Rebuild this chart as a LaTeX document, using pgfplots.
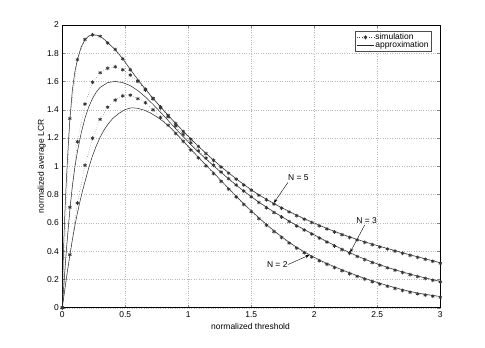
\documentclass[border=0pt]{standalone}
\usepackage{fontspec}
\setmainfont{Liberation Sans}
\usepackage{pgfplots}
\pgfplotsset{compat=1.18}
\usetikzlibrary{arrows.meta}

\newcommand{\fs}{\fontsize{8.5}{10}\selectfont}

\begin{document}
\begin{tikzpicture}
\begin{axis}[name=ax,
  scale only axis, width=378bp, height=282.8bp,
  xmin=0, xmax=3, ymin=0, ymax=2,
  xtick={0,0.5,...,3}, ytick={0,0.2,...,2},
  /pgf/number format/assume math mode=true,
  tick label style={font=\fs}, label style={font=\fs},
  tick align=inside, major tick length=3pt,
  grid=major, major grid style={dotted, gray!55},
  axis line style={black, line width=0.5pt},
  xlabel={normalized threshold},
  ylabel={normalized average LCR},
  xlabel style={at={(rel axis cs:0.498,-0.068)}, anchor=center},
  ylabel style={at={(rel axis cs:-0.0545,0.5)}, anchor=center},
  legend style={font=\fs, at={(rel axis cs:0.9754,0.978)}, anchor=north east,
    draw=black!70, line width=0.5pt, inner sep=1pt, row sep=-2.5pt,
    nodes={inner sep=1.2pt}},
  legend cell align=left,
  sim/.style={black!75, dotted, line width=0.4pt, mark=asterisk, mark size=1.9pt,
    mark options={solid, line width=0.7pt, black!80}},
  apx/.style={black!85, line width=0.5pt, mark=none}
]

% N = 5
\addplot[sim] coordinates {(0,0) (0.06,1.338) (0.12,1.755) (0.18,1.897) (0.24,1.93) (0.30,1.92) (0.36,1.872) (0.42,1.826) (0.48,1.76) (0.54,1.683) (0.60,1.605) (0.66,1.545) (0.72,1.48) (0.78,1.42) (0.84,1.36) (0.90,1.302) (0.96,1.246) (1.02,1.192) (1.08,1.14) (1.14,1.09) (1.20,1.042) (1.26,0.995) (1.32,0.951) (1.38,0.909) (1.44,0.868) (1.50,0.83) (1.56,0.795) (1.62,0.763) (1.68,0.733) (1.74,0.704) (1.80,0.677) (1.86,0.651) (1.92,0.626) (1.98,0.602) (2.04,0.579) (2.10,0.557) (2.16,0.536) (2.22,0.516) (2.28,0.497) (2.34,0.479) (2.40,0.462) (2.46,0.446) (2.52,0.43) (2.58,0.415) (2.64,0.4) (2.70,0.385) (2.76,0.37) (2.82,0.356) (2.88,0.342) (2.94,0.328) (3.0,0.314)};
\addlegendentry{simulation}
\addplot[apx] coordinates {(0,0) (0.005,0.25) (0.01,0.42) (0.02,0.66) (0.03,0.86) (0.04,1.03) (0.05,1.19) (0.06,1.33) (0.08,1.54) (0.10,1.67) (0.12,1.755) (0.15,1.845) (0.18,1.895) (0.21,1.922) (0.24,1.93) (0.27,1.928) (0.30,1.918) (0.33,1.9) (0.36,1.875) (0.42,1.825) (0.48,1.76) (0.54,1.685) (0.60,1.613) (0.66,1.545) (0.72,1.481) (0.78,1.42) (0.84,1.361) (0.90,1.304) (0.96,1.248) (1.02,1.194) (1.08,1.142) (1.14,1.092) (1.20,1.044) (1.26,0.998) (1.32,0.954) (1.38,0.912) (1.44,0.872) (1.50,0.834) (1.56,0.799) (1.62,0.767) (1.68,0.737) (1.74,0.708) (1.80,0.681) (1.86,0.655) (1.92,0.63) (1.98,0.606) (2.04,0.583) (2.10,0.561) (2.16,0.54) (2.22,0.52) (2.28,0.501) (2.34,0.483) (2.40,0.466) (2.46,0.45) (2.52,0.434) (2.58,0.419) (2.64,0.404) (2.70,0.389) (2.76,0.374) (2.82,0.36) (2.88,0.346) (2.94,0.332) (3.0,0.318)};
\addlegendentry{approximation}

% N = 3
\addplot[sim, forget plot] coordinates {(0,0) (0.06,0.71) (0.12,1.174) (0.18,1.44) (0.24,1.594) (0.30,1.662) (0.36,1.693) (0.42,1.704) (0.48,1.683) (0.54,1.645) (0.60,1.60) (0.66,1.54) (0.72,1.478) (0.78,1.414) (0.84,1.35) (0.90,1.286) (0.96,1.225) (1.02,1.167) (1.08,1.11) (1.14,1.058) (1.20,1.008) (1.26,0.96) (1.32,0.913) (1.38,0.868) (1.44,0.825) (1.50,0.784) (1.56,0.744) (1.62,0.707) (1.68,0.673) (1.74,0.641) (1.80,0.609) (1.86,0.578) (1.92,0.549) (1.98,0.521) (2.04,0.492) (2.10,0.464) (2.16,0.437) (2.22,0.411) (2.28,0.386) (2.34,0.362) (2.40,0.34) (2.46,0.319) (2.52,0.3) (2.58,0.282) (2.64,0.265) (2.70,0.249) (2.76,0.234) (2.82,0.22) (2.88,0.207) (2.94,0.194) (3.0,0.182)};
\addplot[apx, forget plot] coordinates {(0,0) (0.005,0.07) (0.01,0.13) (0.02,0.26) (0.03,0.38) (0.04,0.49) (0.06,0.69) (0.08,0.86) (0.10,0.995) (0.12,1.105) (0.15,1.235) (0.18,1.34) (0.21,1.42) (0.24,1.48) (0.27,1.525) (0.30,1.558) (0.36,1.592) (0.42,1.60) (0.48,1.592) (0.54,1.57) (0.60,1.535) (0.66,1.49) (0.72,1.438) (0.78,1.382) (0.84,1.324) (0.90,1.266) (0.96,1.209) (1.02,1.154) (1.08,1.101) (1.14,1.052) (1.20,1.004) (1.26,0.957) (1.32,0.911) (1.38,0.867) (1.44,0.825) (1.50,0.785) (1.56,0.747) (1.62,0.711) (1.68,0.677) (1.74,0.645) (1.80,0.613) (1.86,0.582) (1.92,0.553) (1.98,0.525) (2.04,0.496) (2.10,0.468) (2.16,0.441) (2.22,0.415) (2.28,0.39) (2.34,0.366) (2.40,0.344) (2.46,0.323) (2.52,0.304) (2.58,0.286) (2.64,0.269) (2.70,0.253) (2.76,0.238) (2.82,0.224) (2.88,0.211) (2.94,0.198) (3.0,0.186)};

% N = 2
\addplot[sim, forget plot] coordinates {(0,0) (0.06,0.375) (0.12,0.74) (0.18,1.007) (0.24,1.198) (0.30,1.332) (0.36,1.418) (0.42,1.468) (0.48,1.498) (0.54,1.503) (0.60,1.478) (0.66,1.45) (0.72,1.40) (0.78,1.345) (0.84,1.29) (0.90,1.232) (0.96,1.176) (1.02,1.115) (1.08,1.059) (1.14,1.003) (1.20,0.949) (1.26,0.893) (1.32,0.838) (1.38,0.783) (1.44,0.73) (1.50,0.679) (1.56,0.63) (1.62,0.583) (1.68,0.538) (1.74,0.497) (1.80,0.457) (1.86,0.421) (1.92,0.389) (1.98,0.359) (2.04,0.332) (2.10,0.307) (2.16,0.284) (2.22,0.262) (2.28,0.241) (2.34,0.221) (2.40,0.202) (2.46,0.184) (2.52,0.167) (2.58,0.151) (2.64,0.136) (2.70,0.122) (2.76,0.109) (2.82,0.098) (2.88,0.089) (2.94,0.081) (3.0,0.073)};
\addplot[apx, forget plot] coordinates {(0,0) (0.01,0.065) (0.02,0.13) (0.04,0.255) (0.06,0.37) (0.08,0.48) (0.10,0.58) (0.12,0.67) (0.14,0.75) (0.16,0.825) (0.18,0.89) (0.21,0.99) (0.24,1.075) (0.27,1.145) (0.30,1.205) (0.33,1.255) (0.36,1.295) (0.40,1.338) (0.45,1.375) (0.50,1.402) (0.55,1.414) (0.60,1.41) (0.65,1.397) (0.70,1.377) (0.75,1.35) (0.80,1.318) (0.85,1.28) (0.90,1.235) (0.95,1.188) (1.0,1.14) (1.02,1.121) (1.08,1.065) (1.14,1.009) (1.20,0.955) (1.26,0.899) (1.32,0.844) (1.38,0.789) (1.44,0.736) (1.50,0.685) (1.56,0.636) (1.62,0.589) (1.68,0.544) (1.74,0.503) (1.80,0.463) (1.86,0.427) (1.92,0.395) (1.98,0.365) (2.04,0.338) (2.10,0.313) (2.16,0.29) (2.22,0.268) (2.28,0.247) (2.34,0.227) (2.40,0.208) (2.46,0.19) (2.52,0.173) (2.58,0.157) (2.64,0.142) (2.70,0.128) (2.76,0.115) (2.82,0.104) (2.88,0.095) (2.94,0.087) (3.0,0.079)};

% labels and arrows
\node[font=\fs] at (axis cs:1.873,0.922) {N = 5};
\draw[-{Stealth[length=4pt,width=3pt]}, line width=0.4pt] (axis cs:1.79,0.885) -- (axis cs:1.68,0.742);
\node[font=\fs] at (axis cs:2.416,0.615) {N = 3};
\draw[-{Stealth[length=4pt,width=3pt]}, line width=0.4pt] (axis cs:2.40,0.585) -- (axis cs:2.285,0.392);
\node[font=\fs] at (axis cs:1.706,0.302) {N = 2};
\draw[-{Stealth[length=4pt,width=3pt]}, line width=0.4pt] (axis cs:1.79,0.305) -- (axis cs:1.96,0.372);
\end{axis}
% page size as in the reference
\path ([shift={(-62.3bp,-40.3bp)}]ax.south west) rectangle ([shift={(44.7bp,24.9bp)}]ax.north east);
\end{tikzpicture}
\end{document}
